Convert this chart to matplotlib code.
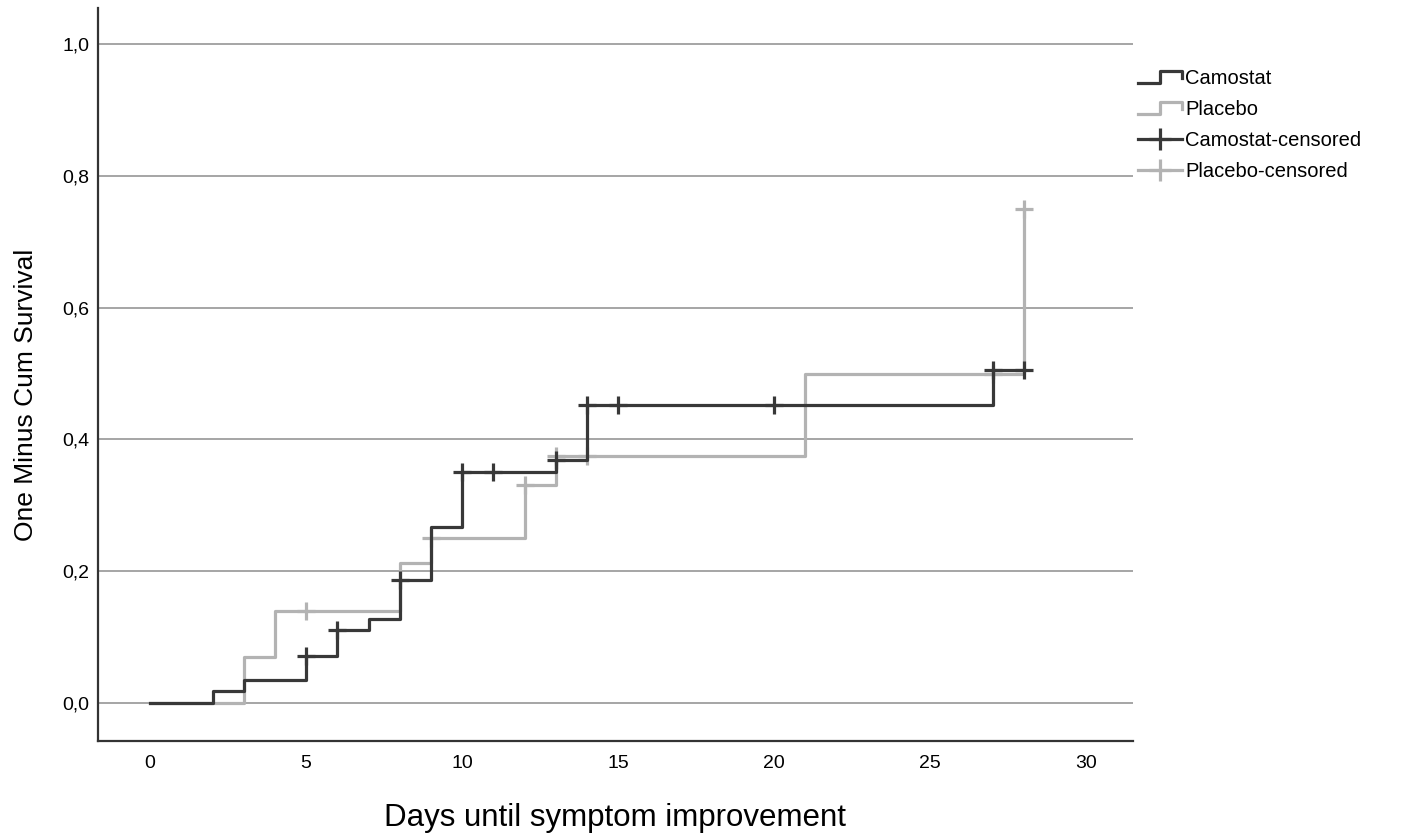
import matplotlib
matplotlib.use("Agg")
import matplotlib.pyplot as plt
from matplotlib.lines import Line2D
from matplotlib.legend_handler import HandlerBase

# Kaplan-Meier style curves (one minus cumulative survival)
camo_days = [0, 2, 3, 5, 6, 7, 8, 9, 10, 13, 14, 27, 28]
camo_vals = [0, 0.0175, 0.035, 0.071, 0.110, 0.127, 0.186, 0.267, 0.350, 0.369, 0.452, 0.506, 0.506]
camo_cens_days = [5, 6, 8, 10, 11, 13, 14, 15, 20, 27, 28]
camo_cens_vals = [0.071, 0.110, 0.186, 0.350, 0.350, 0.369, 0.452, 0.452, 0.452, 0.506, 0.506]

plac_days = [0, 3, 4, 8, 9, 12, 13, 21, 28]
plac_vals = [0, 0.069, 0.140, 0.213, 0.250, 0.330, 0.374, 0.500, 0.750]
plac_cens_days = [5, 9, 12, 13, 14, 27, 28]
plac_cens_vals = [0.140, 0.250, 0.330, 0.374, 0.374, 0.500, 0.750]

x_ticks = [0, 5, 10, 15, 20, 25, 30]
y_ticks = [0.0, 0.2, 0.4, 0.6, 0.8, 1.0]
y_labels = ["0,0", "0,2", "0,4", "0,6", "0,8", "1,0"]

dark = "#383838"
light = "#b3b3b3"
fam = ["Liberation Sans", "DejaVu Sans"]


class StepHandler(HandlerBase):
    def create_artists(self, legend, orig, xd, yd, w, h, fontsize, trans):
        xs = [xd, xd + 0.5 * w, xd + 0.5 * w, xd + w, xd + w]
        ys = [yd + 0.1 * h, yd + 0.1 * h, yd + 0.9 * h, yd + 0.9 * h, yd + 0.45 * h]
        ln = Line2D(xs, ys, color=orig.get_color(), lw=orig.get_linewidth(), transform=trans)
        return [ln]


fig = plt.figure(figsize=(14.1, 8.35), dpi=100)
ax = fig.add_axes([0.0695, 0.1126, 0.734, 0.8778])

for y in y_ticks:
    ax.axhline(y, color="#9e9e9e", lw=1.3, zorder=1)

ax.step(plac_days, plac_vals, where="post", color=light, lw=2.3, zorder=2)
ax.step(camo_days, camo_vals, where="post", color=dark, lw=2.3, zorder=3)
ax.plot(plac_cens_days, plac_cens_vals, ls="none", marker="+", ms=13, mew=2.3, color=light, zorder=2)
ax.plot(camo_cens_days, camo_cens_vals, ls="none", marker="+", ms=13, mew=2.3, color=dark, zorder=4)

ax.set_xlim(-1.67, 31.5)
ax.set_ylim(-0.058, 1.055)
ax.set_xticks(x_ticks)
ax.set_xticklabels([str(t) for t in x_ticks], family=fam, fontsize=14)
ax.set_yticks(y_ticks)
ax.set_yticklabels(y_labels, family=fam, fontsize=14)
ax.tick_params(axis="y", length=0, pad=6)
ax.tick_params(axis="x", length=0, pad=10)

for s in ["top", "right"]:
    ax.spines[s].set_visible(False)
for s in ["left", "bottom"]:
    ax.spines[s].set_color("#333333")
    ax.spines[s].set_linewidth(1.6)

ax.set_xlabel("Days until symptom improvement", family=fam, fontsize=22.5)
ax.xaxis.set_label_coords(0.5, -0.084)
ax.set_ylabel("One Minus Cum Survival", family=fam, fontsize=19)
ax.yaxis.set_label_coords(-0.058, 0.472)

h_camo = Line2D([], [], color=dark, lw=2.3)
h_plac = Line2D([], [], color=light, lw=2.3)
h_camo_c = Line2D([], [], color=dark, lw=2.3, marker="+", ms=16, mew=2.3)
h_plac_c = Line2D([], [], color=light, lw=2.3, marker="+", ms=16, mew=2.3)
fig.legend([h_camo, h_plac, h_camo_c, h_plac_c],
           ["Camostat", "Placebo", "Camostat-censored", "Placebo-censored"],
           handler_map={h_camo: StepHandler(), h_plac: StepHandler()},
           loc="upper left", bbox_to_anchor=(0.8015, 0.927), frameon=False,
           prop={"family": fam, "size": 14.5}, handlelength=2.2, handletextpad=0.15,
           labelspacing=0.6, numpoints=1, borderaxespad=0)

fig.savefig("out.png", dpi=100)
